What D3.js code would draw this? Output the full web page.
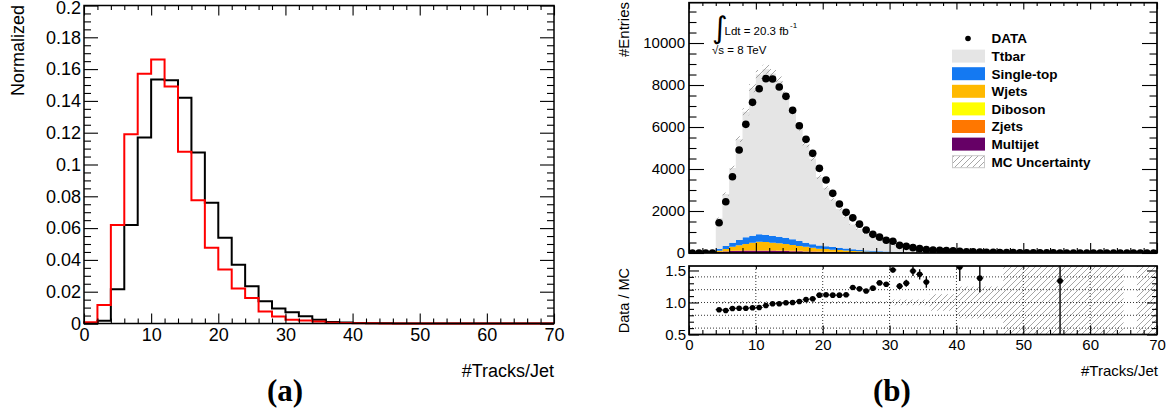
<!DOCTYPE html>
<html><head><meta charset="utf-8">
<script src="https://cdn.jsdelivr.net/npm/d3@7"></script>
<style>
body{margin:0;background:#fff;}
svg text{font-family:"Liberation Sans",Arial,Helvetica,sans-serif;fill:#000;}
</style></head><body>
<svg id="fig" width="1169" height="414"></svg>
<script>
// ---------------- Panel (a): normalised track multiplicity, 2-track bins ----------------
const aBinEdges = d3.range(0, 72, 2);            // 0,2,...,70
const aBlack = [0.0000,0.0018,0.0215,0.0620,0.1170,0.1535,0.1530,0.1420,0.1075,0.0760,
                0.0540,0.0370,0.0235,0.0140,0.0094,0.0070,0.0046,0.0023,0.0010,0.0006,
                0.0003,0.0002,0.0001,0,0,0,0,0,0,0,0,0,0,0,0];
const aRed   = [0.0008,0.0117,0.0620,0.1190,0.1570,0.1660,0.1490,0.1080,0.0775,0.0477,
                0.0340,0.0220,0.0160,0.0075,0.0044,0.0023,0.0019,0.0012,0.0005,0.0003,
                0.0002,0.0001,0,0,0,0,0,0,0,0,0,0,0,0,0];
const aXTicks = [0,10,20,30,40,50,60,70];
const aXTickLabels = ["0","10","20","30","40","50","60","70"];
const aYTicks = [0,0.02,0.04,0.06,0.08,0.1,0.12,0.14,0.16,0.18,0.2];
const aYTickLabels = ["0","0.02","0.04","0.06","0.08","0.1","0.12","0.14","0.16","0.18","0.2"];

// ---------------- Panel (b): data vs stacked prediction, 1-track bins ----------------
const bBinEdges = d3.range(0, 71, 1);            // 0..70
const bData = [0,0,0,0,1443,2443,3633,4905,6127,7175,
               7825,8302,8286,7905,7460,6794,6063,5413,4746,4032,
               3476,2841,2333,1937,1675,1375,1095,889,755,610,
               556,365,317,254,206,159,143,127,111,105,
               80,63,55,45,36,30,25,20,16,13,
               10,8,7,5,4,3,2,2,1,1,
               1,0,1,0,0,0,0,0,0,0];
const bMultijet = [0,0,0,0,45,70,90,100,110,110,
                   112,110,105,100,95,88,80,72,65,58,
                   50,44,38,32,27,23,19,16,13,11,
                   9,7,6,5,4,3,3,2,2,1,
                   1,1,1,1,0,0,0,0,0,0,
                   0,0,0,0,0,0,0,0,0,0,
                   0,0,0,0,0,0,0,0,0,0];
const bZjets = [0,0,0,0,5,8,12,15,18,20,
                22,22,22,21,20,19,18,16,14,12,
                11,10,8,7,6,5,4,3,3,2,
                2,1,1,1,0,0,0,0,0,0,
                0,0,0,0,0,0,0,0,0,0,
                0,0,0,0,0,0,0,0,0,0,
                0,0,0,0,0,0,0,0,0,0];
const bDiboson = [0,0,0,0,2,3,4,5,6,6,
                  7,7,7,7,6,6,6,5,5,4,
                  4,3,3,2,2,2,1,1,1,1,
                  1,0,0,0,0,0,0,0,0,0,
                  0,0,0,0,0,0,0,0,0,0,
                  0,0,0,0,0,0,0,0,0,0,
                  0,0,0,0,0,0,0,0,0,0];
const bWjets = [0,0,0,0,58,109,194,245,296,354,
                399,385,356,332,309,268,229,207,170,131,
                125,102,91,79,65,55,46,38,31,26,
                21,19,15,12,10,8,6,5,4,4,
                3,2,1,1,1,0,0,0,0,0,
                0,0,0,0,0,0,0,0,0,0,
                0,0,0,0,0,0,0,0,0,0];
const bSingleTop = [0,0,0,0,95,143,190,254,317,335,
                    349,333,320,318,300,270,238,190,165,150,
                    135,122,110,95,80,65,55,47,37,30,
                    25,20,16,12,10,8,6,5,4,3,
                    2,2,2,1,1,0,0,0,0,0,
                    0,0,0,0,0,0,0,0,0,0,
                    0,0,0,0,0,0,0,0,0,0];
const bTtbar = [0,0,0,0,1446,2477,3560,4801,5983,7025,
                7611,7893,7740,7422,6770,6149,5399,4680,4071,3261,
                2779,2267,1842,1514,1178,984,803,621,493,404,
                311,244,205,140,119,101,70,58,50,42,
                44,30,26,29,18,15,12,10,8,6,
                5,4,3,3,2,2,1,1,1,1,
                1,1,0.5,0.5,0.5,0,0,0.3,0.3,0.3];
// relative MC uncertainty per bin (null = no prediction)
const bMcUnc = [null,null,null,null,0.025,0.025,0.025,0.025,0.025,0.025,
                0.025,0.025,0.025,0.025,0.025,0.025,0.025,0.025,0.025,0.025,
                0.025,0.025,0.025,0.025,0.025,0.025,0.025,0.025,0.025,0.025,
                0.045,0.045,0.045,0.045,0.045,0.045,0.13,0.13,0.13,0.13,
                0.25,0.25,0.25,0.25,0.25,0.25,0.25,0.6,1.2,1.2,
                1.2,1.2,1.2,1.2,1.2,1.2,1.2,1.2,1.2,1.2,
                1.2,1.2,1.2,1.2,1.2,null,null,1.2,1.2,1.2];
const bRatio = [null,null,null,null,0.887,0.876,0.907,0.910,0.910,0.918,
                0.922,0.953,0.980,0.980,0.995,1.000,1.016,1.047,1.057,1.115,
                1.120,1.115,1.115,1.120,1.233,1.213,1.180,1.224,1.306,1.286,
                1.508,1.255,1.302,1.492,1.440,1.320,null,null,null,null,
                1.554,null,null,1.380,null,null,null,null,null,null,
                null,null,null,null,null,1.337,null,null,null,null,
                null,null,null,null,null,null,null,null,null,null];
const bRatioErr = [null,null,null,null,0.012,0.012,0.012,0.012,0.012,0.012,
                   0.012,0.012,0.012,0.012,0.012,0.012,0.012,0.012,0.012,0.012,
                   0.012,0.012,0.012,0.012,0.025,0.025,0.025,0.025,0.025,0.025,
                   0.04,0.05,0.055,0.08,0.08,0.09,null,null,null,null,
                   0.22,null,null,0.22,null,null,null,null,null,null,
                   null,null,null,null,null,1.5,null,null,null,null,
                   null,null,null,null,null,null,null,null,null,null];
const bXTicks = [0,10,20,30,40,50,60,70];
const bXTickLabels = ["0","10","20","30","40","50","60","70"];
const bYTicks = [0,2000,4000,6000,8000,10000];
const bYTickLabels = ["0","2000","4000","6000","8000","10000"];
const rYTicks = [0.5,1.0,1.5];
const rYTickLabels = ["0.5","1.0","1.5"];
const rGridY = [0.6,0.8,1.0,1.2,1.4];
const rGridX = [10,20,30,40,50,60];

const stackKeys   = ["Multijet","Zjets","Diboson","Wjets","Single-top","Ttbar"];
const stackSeries = [bMultijet, bZjets, bDiboson, bWjets, bSingleTop, bTtbar];
const stackColors = ["#660066","#ff7700","#ffff00","#ffb900","#1479f2","#e5e5e5"];
const legendOrder = ["Ttbar","Single-top","Wjets","Diboson","Zjets","Multijet"];

const svg = d3.select("#fig");

const defs = svg.append("defs");
const hatch = defs.append("pattern").attr("id","hatch")
  .attr("patternUnits","userSpaceOnUse").attr("width",6).attr("height",6);
hatch.append("path").attr("d","M-1,1 l2,-2 M0,6 l6,-6 M5,7 l2,-2")
  .attr("stroke","#9c9c9c").attr("stroke-width",0.9);

// ---------- generic helpers ----------
function styleAxis(g, fontSize) {
  g.select(".domain").remove();
  g.attr("font-family", null).attr("font-size", fontSize);
  g.selectAll(".tick line").attr("stroke","#000").attr("stroke-width",1.1);
  g.selectAll(".tick text").attr("fill","#000");
}
function addAxis(parent, gen, tx, ty, fontSize) {
  return parent.append("g").attr("transform",`translate(${tx},${ty})`)
    .call(gen).call(g => styleAxis(g, fontSize));
}
// outline of a histogram as step points
function stepOutline(values, edges) {
  const pts = [[edges[0], 0]];
  values.forEach((v, i) => { pts.push([edges[i], v]); pts.push([edges[i+1], v]); });
  pts.push([edges[edges.length-1], 0]);
  return pts;
}

// ================= Panel (a) =================
const ax = d3.scaleLinear().domain([0,70]).range([84,554]);
const ay = d3.scaleLinear().domain([0,0.2]).range([323.5,5.5]);
const aMinorX = d3.range(0,71,2).filter(v => v % 10 !== 0);
const aMinorY = d3.range(0,0.2001,0.005).filter((v,i) => i % 4 !== 0);
const pa = svg.append("g");

const outline = d3.line().x(d => ax(d[0])).y(d => ay(d[1]));
pa.append("path").attr("d", outline(stepOutline(aBlack, aBinEdges)))
  .attr("fill","none").attr("stroke","#000").attr("stroke-width",2);
pa.append("path").attr("d", outline(stepOutline(aRed, aBinEdges)))
  .attr("fill","none").attr("stroke","#ff0000").attr("stroke-width",2);

addAxis(pa, d3.axisBottom(ax).tickValues(aXTicks).tickFormat((d,i)=>aXTickLabels[i]).tickSize(-10).tickPadding(5), 0, 323.5, 18);
addAxis(pa, d3.axisBottom(ax).tickValues(aMinorX).tickFormat("").tickSize(-5), 0, 323.5, 18);
addAxis(pa, d3.axisTop(ax).tickValues(aXTicks).tickFormat("").tickSize(-10), 0, 5.5, 18);
addAxis(pa, d3.axisTop(ax).tickValues(aMinorX).tickFormat("").tickSize(-4.5), 0, 5.5, 18);
const aLeft = addAxis(pa, d3.axisLeft(ay).tickValues(aYTicks).tickFormat((d,i)=>aYTickLabels[i]).tickSize(-14).tickPadding(3), 84, 0, 18);
// keep the topmost label inside the page
aLeft.selectAll(".tick text").filter(d => d === 0.2).attr("dy","0.45em");
addAxis(pa, d3.axisLeft(ay).tickValues(aMinorY).tickFormat("").tickSize(-7), 84, 0, 18);
addAxis(pa, d3.axisRight(ay).tickValues(aYTicks).tickFormat("").tickSize(-14), 554, 0, 18);
addAxis(pa, d3.axisRight(ay).tickValues(aMinorY).tickFormat("").tickSize(-7), 554, 0, 18);

pa.append("rect").attr("x",84).attr("y",5.5).attr("width",470).attr("height",318)
  .attr("fill","none").attr("stroke","#000").attr("stroke-width",1.5);

pa.append("text").attr("transform","translate(24,5) rotate(-90)")
  .attr("text-anchor","end").attr("font-size",18).text("Normalized");
pa.append("text").attr("x",554).attr("y",377).attr("text-anchor","end")
  .attr("font-size",18).text("#Tracks/Jet");
pa.append("text").attr("x",285).attr("y",401).attr("text-anchor","middle")
  .style("font-family","'Liberation Serif','Times New Roman',serif")
  .attr("font-weight","bold").attr("font-size",31).text("(a)");

// ================= Panel (b), upper pad =================
const bx = d3.scaleLinear().domain([0,70]).range([689,1157]);
const by = d3.scaleLinear().domain([0,11920]).range([253,2.7]);
const bMinorX = d3.range(0,71,2).filter(v => v % 10 !== 0);
const bMinorY = d3.range(0,11901,500).filter(v => v % 2000 !== 0);
const pb = svg.append("g");
defs.append("clipPath").attr("id","clipMain").append("rect")
  .attr("x",689).attr("y",2.7).attr("width",468).attr("height",250.3);
defs.append("clipPath").attr("id","clipRatio").append("rect")
  .attr("x",689).attr("y",266).attr("width",468).attr("height",68.5);

const bins = bData.map((_, i) => {
  const o = { i };
  stackKeys.forEach((k, j) => { o[k] = stackSeries[j][i]; });
  return o;
});
const layers = d3.stack().keys(stackKeys)(bins);
const stepArea = d3.area().x(d => bx(d.x)).y0(d => by(d.y0)).y1(d => by(d.y1));
const plotMain = pb.append("g").attr("clip-path","url(#clipMain)");
layers.forEach((layer, j) => {
  const pts = [];
  layer.forEach((d, i) => {
    pts.push({x: bBinEdges[i], y0: d[0], y1: d[1]});
    pts.push({x: bBinEdges[i+1], y0: d[0], y1: d[1]});
  });
  plotMain.append("path").attr("d", stepArea(pts)).attr("fill", stackColors[j]);
});

// MC uncertainty band on top of the stack
const totals = bins.map((b, i) => d3.sum(stackSeries, s => s[i]));
const uncPts = [];
totals.forEach((t, i) => {
  const u = bMcUnc[i];
  const ok = u !== null && t > 0;
  const lo = ok ? Math.max(0, t * (1 - u)) : 0, hi = ok ? t * (1 + u) : 0;
  uncPts.push({x: bBinEdges[i], y0: lo, y1: hi, ok});
  uncPts.push({x: bBinEdges[i+1], y0: lo, y1: hi, ok});
});
plotMain.append("path").attr("d", stepArea.defined(d => d.ok)(uncPts)).attr("fill","url(#hatch)");

// data points
const dataG = plotMain.append("g");
bData.forEach((v, i) => {
  const cx = bx((bBinEdges[i] + bBinEdges[i+1]) / 2), cy = by(v);
  dataG.append("line").attr("x1", bx(bBinEdges[i])).attr("x2", bx(bBinEdges[i+1]))
    .attr("y1", cy).attr("y2", cy).attr("stroke","#000").attr("stroke-width",1.2);
  dataG.append("circle").attr("cx", cx).attr("cy", cy).attr("r", 3.8).attr("fill","#000");
});

addAxis(pb, d3.axisBottom(bx).tickValues(bXTicks).tickFormat("").tickSize(-10), 0, 253, 15);
addAxis(pb, d3.axisBottom(bx).tickValues(bMinorX).tickFormat("").tickSize(-5), 0, 253, 15);
addAxis(pb, d3.axisTop(bx).tickValues(bXTicks).tickFormat("").tickSize(-6.7), 0, 2.7, 15);
addAxis(pb, d3.axisTop(bx).tickValues(bMinorX).tickFormat("").tickSize(-3.3), 0, 2.7, 15);
addAxis(pb, d3.axisLeft(by).tickValues(bYTicks).tickFormat((d,i)=>bYTickLabels[i]).tickSize(-15).tickPadding(4), 689, 0, 15);
addAxis(pb, d3.axisLeft(by).tickValues(bMinorY).tickFormat("").tickSize(-7.5), 689, 0, 15);
addAxis(pb, d3.axisRight(by).tickValues(bYTicks).tickFormat("").tickSize(-15), 1157, 0, 15);
addAxis(pb, d3.axisRight(by).tickValues(bMinorY).tickFormat("").tickSize(-7.5), 1157, 0, 15);
pb.append("rect").attr("x",689).attr("y",2.7).attr("width",468).attr("height",250.3)
  .attr("fill","none").attr("stroke","#000").attr("stroke-width",1.7);

pb.append("text").attr("transform","translate(628.5,2) rotate(-90)")
  .attr("text-anchor","end").attr("font-size",15).text("#Entries");

// luminosity / energy labels
pb.append("text").attr("x",712).attr("y",38).attr("font-size",30)
  .style("font-family","'DejaVu Sans',sans-serif").text("∫");
pb.append("text").attr("x",724.5).attr("y",35).attr("font-size",11.5).text("Ldt = 20.3 fb");
pb.append("text").attr("x",790).attr("y",28).attr("font-size",8).text("-1");
pb.append("text").attr("x",712).attr("y",54).attr("font-size",11.5).text("√s = 8 TeV");

// legend
const lg = pb.append("g");
const rowY = i => 38.5 + i * 17.6;
lg.append("circle").attr("cx",968).attr("cy",rowY(0)).attr("r",2.8).attr("fill","#000");
lg.append("text").attr("x",991.5).attr("y",rowY(0)).attr("dy","0.36em")
  .attr("font-size",13.5).attr("font-weight","bold").text("DATA");
legendOrder.forEach((name, k) => {
  const j = stackKeys.indexOf(name), y = rowY(k + 1);
  lg.append("rect").attr("x",952).attr("y",y - 6.5).attr("width",33).attr("height",13)
    .attr("fill", stackColors[j]);
  lg.append("text").attr("x",991.5).attr("y",y).attr("dy","0.36em")
    .attr("font-size",13.5).attr("font-weight","bold").text(name);
});
{
  const y = rowY(7);
  lg.append("rect").attr("x",952.5).attr("y",y - 6).attr("width",32).attr("height",12)
    .attr("fill","url(#hatch)").attr("stroke","#c8c8c8").attr("stroke-width",1);
  lg.append("text").attr("x",991.5).attr("y",y).attr("dy","0.36em")
    .attr("font-size",13.5).attr("font-weight","bold").text("MC Uncertainty");
}

// ================= Panel (b), ratio pad =================
const ry = d3.scaleLinear().domain([0.5,1.57]).range([334.5,266]);
const rMinorY = d3.range(0.5,1.571,0.1).filter((v,i) => i % 5 !== 0);
const pr = svg.append("g");
const plotR = pr.append("g").attr("clip-path","url(#clipRatio)");

const rBand = [];
bMcUnc.forEach((u, i) => {
  const ok = u !== null;
  rBand.push({x: bBinEdges[i], u, ok});
  rBand.push({x: bBinEdges[i+1], u, ok});
});
plotR.append("path")
  .attr("d", d3.area().defined(d => d.ok).x(d => bx(d.x)).y0(d => ry(1 - d.u)).y1(d => ry(1 + d.u))(rBand))
  .attr("fill","url(#hatch)");

rGridY.forEach(v => plotR.append("line").attr("x1",689).attr("x2",1157)
  .attr("y1",ry(v)).attr("y2",ry(v)).attr("stroke","#000").attr("stroke-width",0.8)
  .attr("stroke-dasharray","1,2"));
rGridX.forEach(v => plotR.append("line").attr("x1",bx(v)).attr("x2",bx(v))
  .attr("y1",266).attr("y2",334.5).attr("stroke","#000").attr("stroke-width",0.8)
  .attr("stroke-dasharray","1,2"));

bRatio.forEach((r, i) => {
  if (r === null) return;
  const cx = bx((bBinEdges[i] + bBinEdges[i+1]) / 2), cy = ry(r), e = bRatioErr[i];
  plotR.append("line").attr("x1", bx(bBinEdges[i])).attr("x2", bx(bBinEdges[i+1]))
    .attr("y1", cy).attr("y2", cy).attr("stroke","#000").attr("stroke-width",1.2);
  plotR.append("line").attr("x1", cx).attr("x2", cx).attr("y1", ry(r - e)).attr("y2", ry(r + e))
    .attr("stroke","#000").attr("stroke-width",1.4);
  plotR.append("circle").attr("cx", cx).attr("cy", cy).attr("r", 2.8).attr("fill","#000");
});

addAxis(pr, d3.axisBottom(bx).tickValues(bXTicks).tickFormat((d,i)=>bXTickLabels[i]).tickSize(-9).tickPadding(5), 0, 334.5, 15);
addAxis(pr, d3.axisBottom(bx).tickValues(bMinorX).tickFormat("").tickSize(-4.5), 0, 334.5, 15);
addAxis(pr, d3.axisTop(bx).tickValues(bXTicks).tickFormat("").tickSize(-3), 0, 266, 15);
addAxis(pr, d3.axisLeft(ry).tickValues(rYTicks).tickFormat((d,i)=>rYTickLabels[i]).tickSize(-10).tickPadding(3), 689, 0, 15);
addAxis(pr, d3.axisLeft(ry).tickValues(rMinorY).tickFormat("").tickSize(-5), 689, 0, 15);
addAxis(pr, d3.axisRight(ry).tickValues(rYTicks).tickFormat("").tickSize(-10), 1157, 0, 15);
addAxis(pr, d3.axisRight(ry).tickValues(rMinorY).tickFormat("").tickSize(-5), 1157, 0, 15);
pr.append("rect").attr("x",689).attr("y",266).attr("width",468).attr("height",68.5)
  .attr("fill","none").attr("stroke","#000").attr("stroke-width",1.7);

pr.append("text").attr("transform","translate(629,268) rotate(-90)")
  .attr("text-anchor","end").attr("font-size",14.5).text("Data / MC");
pr.append("text").attr("x",1158).attr("y",376).attr("text-anchor","end")
  .attr("font-size",15).text("#Tracks/Jet");
pr.append("text").attr("x",892).attr("y",401).attr("text-anchor","middle")
  .style("font-family","'Liberation Serif','Times New Roman',serif")
  .attr("font-weight","bold").attr("font-size",31).text("(b)");
</script>
</body></html>
